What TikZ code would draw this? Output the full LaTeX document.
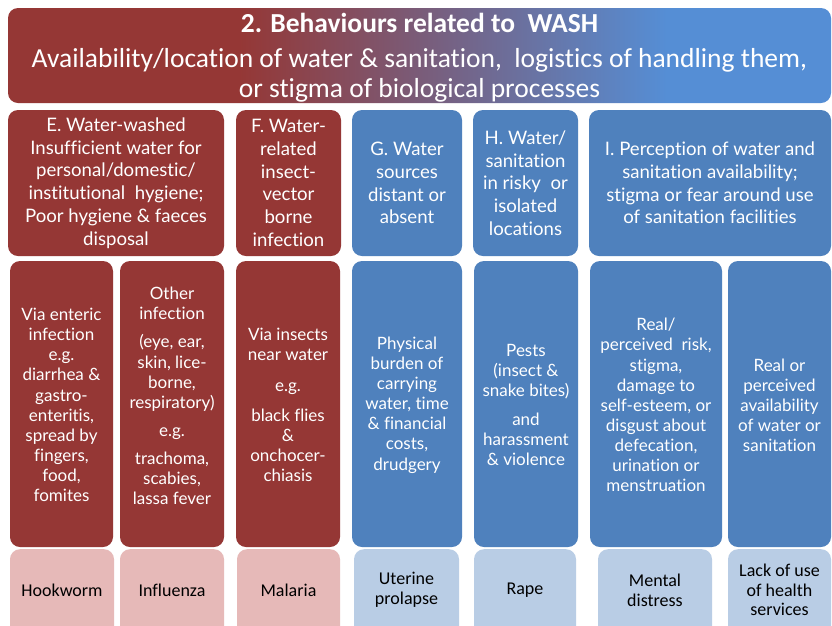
\documentclass[tikz,border=0pt]{standalone}
\usepackage{fontspec}
\setmainfont{Carlito}[Ligatures=NoCommon]
\newfontfamily\gill{Lato}[Ligatures=NoCommon]
\definecolor{wred}{HTML}{953735}
\definecolor{wblue}{HTML}{4F81BD}
\definecolor{tblue}{HTML}{558ED5}
\definecolor{wpink}{HTML}{E6B9B8}
\definecolor{lblue}{HTML}{B9CDE5}
\pgfdeclarehorizontalshading{titleshade}{100bp}{color(0bp)=(wred); color(39bp)=(wred); color(65bp)=(tblue); color(100bp)=(tblue)}
\begin{document}
\begin{tikzpicture}[x=1pt,y=-1pt,
  box/.style={rounded corners=10pt, inner sep=0pt, align=center, text=white},
  redbox/.style={box, fill=wred},
  bluebox/.style={box, fill=wblue},
  pinkbox/.style={rounded corners=10pt, fill=wpink, minimum height=90, anchor=north},
  lbluebox/.style={rounded corners=10pt, fill=lblue, minimum height=90, anchor=north},
  toptext/.style={font=\gill\fontsize{18.6}{22.7}\selectfont},
  midtext/.style={font=\gill\fontsize{17}{20.1}\selectfont, text=white, align=center, inner sep=0pt},
  bottext/.style={font=\fontsize{18}{19.7}\selectfont, align=center, text=black, inner sep=0pt},
  toprow/.style={minimum height=146},
  midrow/.style={minimum height=286}
]
\useasboundingbox (0,0) rectangle (832,625);
\clip (0,0) rectangle (832,625);
\fill[white] (0,0) rectangle (832,625);

% title
\node[box, shade, shading=titleshade, minimum width=823, minimum height=95] (title) at (419.5,55.5) {};
\node[font=\fontsize{27.5}{30}\selectfont, text=white, align=center, inner sep=0pt] (titletext) at (419.5,58)
  {{\bfseries 2. Behaviours related to\ \ WASH}\\[5pt]
   Availability/location of water \& sanitation,\ \ logistics of handling them,\\
   or stigma of biological processes};

% top row
\node[redbox, toptext, toprow, minimum width=216] (E) at (116,183)
  {E. Water-washed\\Insufficient water for\\personal/domestic/\\institutional\ \ hygiene;\\Poor hygiene \& faeces\\disposal};
\node[redbox, toptext, toprow, minimum width=105] (F) at (288.5,183)
  {F. Water-\\related\\insect-\\vector\\borne\\infection};
\node[bluebox, toptext, toprow, minimum width=110] (G) at (407,183)
  {G. Water\\sources\\distant or\\absent};
\node[bluebox, toptext, toprow, minimum width=105] (H) at (525.5,183)
  {H. Water/\\sanitation\\in risky\ \ or\\isolated\\locations};
\node[bluebox, toptext, toprow, minimum width=242] (I) at (710,183)
  {I. Perception of water and\\sanitation availability;\\stigma or fear around use\\of sanitation facilities};

% middle row
\node[redbox, midrow, minimum width=103] (m1) at (61.5,404) {};
\node[midtext] (t1) at (61.5,405)
  {Via enteric\\infection\\e.g.\\diarrhea \&\\gastro-\\enteritis,\\spread by\\fingers,\\food,\\fomites};
\node[redbox, midrow, minimum width=104] (m2) at (172,404) {};
\node[midtext] (t2) at (172,396)
  {Other\\infection\\[8pt](eye, ear,\\skin, lice-\\borne,\\respiratory)\\[8pt]e.g.\\[8pt]trachoma,\\scabies,\\lassa fever};
\node[redbox, midrow, minimum width=104] (m3) at (288,404) {};
\node[midtext] (t3) at (288,405)
  {Via insects\\near water\\[10pt]e.g.\\[10pt]black flies\\\&\\onchocer-\\chiasis};
\node[bluebox, midrow, minimum width=110] (m4) at (407,404) {};
\node[midtext] (t4) at (407,405)
  {Physical\\burden of\\carrying\\water, time\\\& financial\\costs,\\drudgery};
\node[bluebox, midrow, minimum width=104] (m5) at (526,404) {};
\node[midtext] (t5) at (526,405)
  {Pests\\(insect \&\\snake bites)\\[8pt]and\\harassment\\\& violence};
\node[bluebox, midrow, minimum width=132] (m6) at (656,404) {};
\node[midtext] (t6) at (656,405)
  {Real/\\perceived\ \ risk,\\stigma,\\damage to\\self-esteem, or\\disgust about\\defecation,\\urination or\\menstruation};
\node[bluebox, midrow, minimum width=103] (m7) at (779.5,404) {};
\node[midtext] (t7) at (779.5,405)
  {Real or\\perceived\\availability\\of water or\\sanitation};

% bottom row
\node[pinkbox, minimum width=104] (b1) at (62,549) {};
\node[bottext] (l1) at (62,590) {Hookworm};
\node[pinkbox, minimum width=104] (b2) at (172,549) {};
\node[bottext] (l2) at (172,590) {Influenza};
\node[pinkbox, minimum width=103] (b3) at (288.5,549) {};
\node[bottext] (l3) at (288.5,590) {Malaria};
\node[lbluebox, minimum width=105] (b4) at (406.5,549) {};
\node[bottext] (l4) at (406.5,590) {Uterine\\prolapse};
\node[lbluebox, minimum width=102] (b5) at (525,549) {};
\node[bottext] (l5) at (525,590) {Rape};
\node[lbluebox, minimum width=114] (b6) at (655,549) {};
\node[bottext] (l6) at (655,590) {Mental\\distress};
\node[lbluebox, minimum width=103] (b7) at (779.5,549) {};
\node[bottext] (l7) at (779.5,590) {Lack of use\\of health\\services};
\end{tikzpicture}
\end{document}
